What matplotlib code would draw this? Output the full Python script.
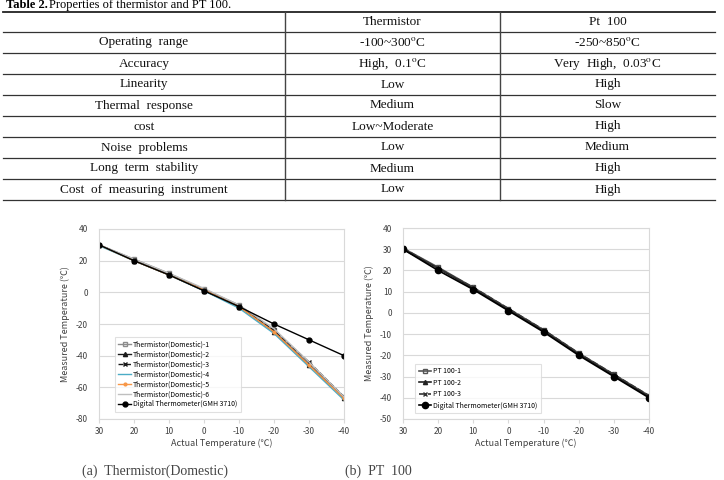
import matplotlib
matplotlib.use("Agg")
import matplotlib.pyplot as plt

plt.rcParams['mathtext.fontset'] = 'stix'
plt.rcParams['axes.unicode_minus'] = False

# ---- table data ----
table_header = ["", "Thermistor", "Pt  100"]
properties = ["Operating  range", "Accuracy", "Linearity", "Thermal  response", "cost",
              "Noise  problems", "Long  term  stability", "Cost  of  measuring  instrument"]
thermistor_props = [r"-100~300$^{\rm o}$C", r"High,  0.1$^{\rm o}$C", "Low", "Medium",
                    "Low~Moderate", "Low", "Medium", "Low"]
pt100_props = [r"-250~850$^{\rm o}$C", r"Very  High,  0.03$^{\rm o}$C", "High", "Slow",
               "High", "Medium", "High", "High"]

# ---- chart data ----
actual = [30, 20, 10, 0, -10, -20, -30, -40]
digital = [30, 20, 11, 1, -9, -20, -30, -40]

therm_labels = ["Thermistor(Domestic)-1", "Thermistor(Domestic)-2", "Thermistor(Domestic)-3",
                "Thermistor(Domestic)-4", "Thermistor(Domestic)-5", "Thermistor(Domestic)-6"]
therm_vals = [
    [30, 21, 12, 2, -8, -24, -45, -66],
    [30, 20, 11, 1, -9, -25, -46, -67],
    [30, 20.5, 11.5, 1.5, -8.5, -24, -44, -66],
    [29.5, 20, 11, 1, -10, -26, -47, -68],
    [30, 20, 11, 1.5, -9, -25, -46, -67],
    [30, 21, 12, 2.5, -8, -23, -44, -66],
]

pt_labels = ["PT 100-1", "PT 100-2", "PT 100-3"]
pt_vals = [
    [30.5, 21.5, 12, 2, -8, -19, -29, -39],
    [30, 21, 11.5, 1.5, -8.5, -19.5, -29.5, -39.5],
    [30.5, 21, 12, 2, -8, -19, -29, -39],
]

fig = plt.figure(figsize=(7.24, 4.80), dpi=100)

# ---- table drawn in pixel coordinates ----
tab = fig.add_axes([0, 0, 1, 1])
tab.set_xlim(0, 724)
tab.set_ylim(480, 0)
tab.axis('off')

serif = 'Liberation Serif'
tab.text(6, 5, "Table 2.", fontsize=9, fontweight='bold', family=serif, va='center', ha='left')
tab.text(49, 5, "Properties of thermistor and PT 100.", fontsize=9, family=serif,
         va='center', ha='left')

x_left, x_right = 3, 715
col_sep = [285, 500]
col_centers = [(x_left + col_sep[0]) / 2, (col_sep[0] + col_sep[1]) / 2, (col_sep[1] + x_right) / 2]
top, head_h, row_h = 12, 20, 21
bottom = top + head_h + row_h * len(properties)

tab.plot([x_left, x_right], [top, top], color='#222222', lw=1.3)
tab.plot([x_left, x_right], [top + head_h, top + head_h], color='#333333', lw=0.9)
for i in range(len(properties)):
    yb = top + head_h + row_h * (i + 1)
    tab.plot([x_left, x_right], [yb, yb], color='#333333', lw=0.9)
for xs in col_sep:
    tab.plot([xs, xs], [top, bottom], color='#444444', lw=1.0)

for j, h in enumerate(table_header):
    tab.text(col_centers[j], top + head_h / 2, h, fontsize=9.5, family=serif,
             ha='center', va='center', color='#111111')
rows = list(zip(properties, thermistor_props, pt100_props))
for i, row in enumerate(rows):
    yc = top + head_h + row_h * i + row_h / 2
    for j, cell in enumerate(row):
        tab.text(col_centers[j], yc, cell, fontsize=9.5, family=serif,
                 ha='center', va='center', color='#111111')

# captions
tab.text(82, 471, "(a)  Thermistor(Domestic)", fontsize=10, family=serif, color='#444444',
         va='center', ha='left')
tab.text(345, 471, "(b)  PT  100", fontsize=10, family=serif, color='#444444',
         va='center', ha='left')

# ---- charts ----
sans = ['Noto Sans CJK KR', 'DejaVu Sans']
grid_c = '#d9d9d9'
tick_c = '#404040'


def style_axes(ax, yticks):
    ax.set_xlim(30, -40)
    ax.set_xticks(actual)
    ax.set_ylim(yticks[0], yticks[-1])
    ax.set_yticks(yticks)
    ax.grid(axis='y', color=grid_c, lw=0.8)
    ax.set_axisbelow(True)
    for s in ax.spines.values():
        s.set_color(grid_c)
        s.set_linewidth(0.8)
    ax.tick_params(axis='y', length=0, pad=8, labelsize=6, labelcolor=tick_c)
    ax.tick_params(axis='x', length=3, color=grid_c, pad=3, labelsize=6, labelcolor=tick_c)
    for lab in ax.get_xticklabels() + ax.get_yticklabels():
        lab.set_family(sans)
    ax.set_xlabel("Actual Temperature (℃)", fontsize=6.5, family=sans, color=tick_c, labelpad=2)
    ax.set_ylabel("Measured Temperature (℃)", fontsize=6.5, family=sans, color=tick_c, labelpad=4)


ax1 = fig.add_axes([99 / 724, 61 / 480, 245 / 724, 190 / 480])
therm_styles = [
    dict(color='#8c8c8c', marker='s', mfc='none', ms=3, ls='-'),
    dict(color='#1a1a1a', marker='^', ms=3, ls='-'),
    dict(color='#1a1a1a', marker='x', ms=3, ls='--'),
    dict(color='#4bacc6', marker='', ls='-'),
    dict(color='#f79646', marker='o', ms=2, ls='-'),
    dict(color='#bfbfbf', marker='', ls='-'),
]
for vals, lab, st in zip(therm_vals, therm_labels, therm_styles):
    ax1.plot(actual, vals, lw=1.0, label=lab, **st)
ax1.plot(actual, digital, color='black', marker='o', ms=3.5, lw=1.0,
         label="Digital Thermometer(GMH 3710)")
style_axes(ax1, [-80, -60, -40, -20, 0, 20, 40])
leg1 = ax1.legend(loc='lower left', bbox_to_anchor=(0.065, 0.037),
                  prop={'family': sans, 'size': 5}, frameon=True, fancybox=False,
                  edgecolor=grid_c, labelspacing=0.28, handlelength=1.8,
                  borderpad=0.5, handletextpad=0.3, borderaxespad=0)
leg1.get_frame().set_linewidth(0.8)

ax2 = fig.add_axes([403 / 724, 61 / 480, 246 / 724, 191 / 480])
pt_styles = [
    dict(color='#555555', marker='s', mfc='none', ms=3, ls='-'),
    dict(color='#222222', marker='^', ms=3, ls='-'),
    dict(color='#333333', marker='x', ms=3, ls='--'),
]
for vals, lab, st in zip(pt_vals, pt_labels, pt_styles):
    ax2.plot(actual, vals, lw=1.2, label=lab, **st)
ax2.plot(actual, digital, color='black', marker='o', ms=4.5, lw=1.2,
         label="Digital Thermometer(GMH 3710)")
style_axes(ax2, [-50, -40, -30, -20, -10, 0, 10, 20, 30, 40])
leg2 = ax2.legend(loc='lower left', bbox_to_anchor=(0.049, 0.031),
                  prop={'family': sans, 'size': 5}, frameon=True, fancybox=False,
                  edgecolor=grid_c, labelspacing=0.5, handlelength=1.8,
                  borderpad=0.5, handletextpad=0.3, borderaxespad=0)
leg2.get_frame().set_linewidth(0.8)

fig.savefig("out.png", dpi=100)
